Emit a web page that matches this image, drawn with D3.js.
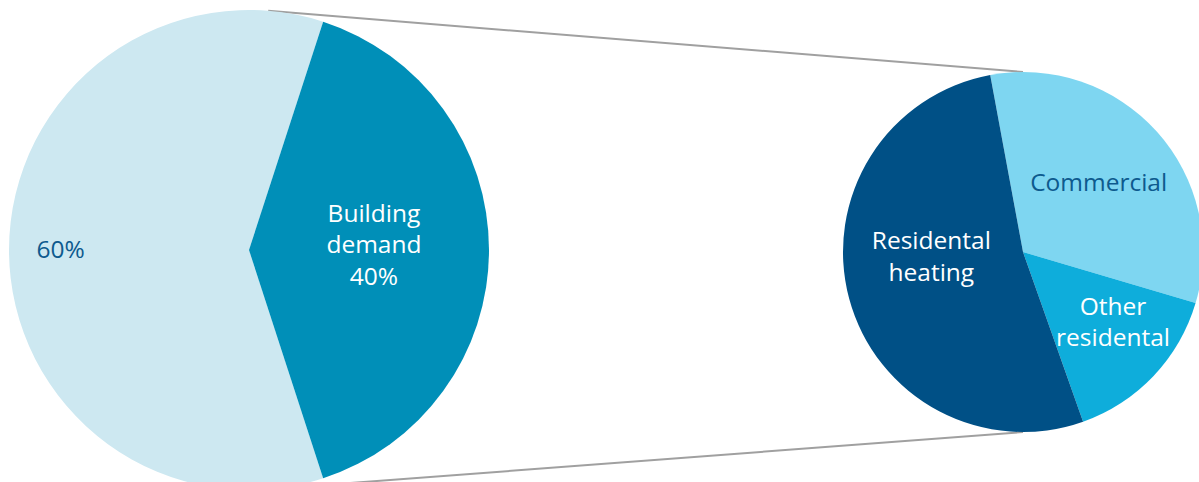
<!DOCTYPE html>
<html>
<head>
<meta charset="utf-8">
<script src="https://cdn.jsdelivr.net/npm/d3@7"></script>
<style>
  html, body { margin: 0; padding: 0; background: #ffffff; }
  svg { display: block; }
  text { font-family: "Open Sans", "Noto Sans", sans-serif; }
</style>
</head>
<body>
<svg id="chart" width="1199" height="482"></svg>
<script>
// ---- data ----
const mainCategories = ["Other", "Building demand"];
const mainValues = [60, 40];
const mainLabels = [["60%"], ["Building", "demand", "40%"]];

const subCategories = ["Commercial", "Other residental", "Residental heating"];
const subValues = [13, 6, 21];
const subLabels = [["Commercial"], ["Other", "residental"], ["Residental", "heating"]];

// ---- layout ----
const W = 1199, H = 482;
const mainPie = { cx: 249, cy: 250, r: 240 };
const subPie = { cx: 1023, cy: 252, r: 180 };
const mainColors = d3.scaleOrdinal().domain(mainCategories).range(["#cde8f1", "#008fb8"]);
const subColors = d3.scaleOrdinal().domain(subCategories).range(["#7ed6f1", "#0eaddb", "#005086"]);
const mainText = d3.scaleOrdinal().domain(mainCategories).range(["#0d5a8e", "#ffffff"]);
const subText = d3.scaleOrdinal().domain(subCategories).range(["#0d5a8e", "#ffffff", "#ffffff"]);
// label anchor (angle in degrees clockwise from north, distance as fraction of radius)
const mainLabelPos = { "Other": [270, 0.785], "Building demand": [87.6, 0.521] };
const subLabelPos = { "Commercial": [47.5, 0.57], "Other residental": [128, 0.635], "Residental heating": [267, 0.51] };
const fontSize = 24.5, lineH = 31.5;

const svg = d3.select("#chart");

// connector lines (tangent from the left pie to top/bottom of right pie)
const slopeAng = Math.atan2((subPie.cy - subPie.r) - (mainPie.cy - mainPie.r), subPie.cx - mainPie.cx);
const tTop = [mainPie.cx + mainPie.r * Math.sin(slopeAng), mainPie.cy - mainPie.r * Math.cos(slopeAng)];
const tBot = [mainPie.cx + mainPie.r * Math.sin(slopeAng), mainPie.cy + mainPie.r * Math.cos(slopeAng)];
svg.append("line").attr("x1", tTop[0]).attr("y1", tTop[1])
  .attr("x2", subPie.cx).attr("y2", subPie.cy - subPie.r)
  .attr("stroke", "#a0a0a0").attr("stroke-width", 2);
svg.append("line").attr("x1", tBot[0]).attr("y1", tBot[1])
  .attr("x2", subPie.cx).attr("y2", subPie.cy + subPie.r)
  .attr("stroke", "#a0a0a0").attr("stroke-width", 2);

function drawPie(cfg, cats, vals, labels, colors, textColors, labelPos, startDeg) {
  const data = cats.map((c, i) => ({ cat: c, value: vals[i], label: labels[i] }));
  const start = startDeg * Math.PI / 180;
  const pie = d3.pie().value(d => d.value).sort(null)
    .startAngle(start).endAngle(start + 2 * Math.PI);
  const arc = d3.arc().innerRadius(0).outerRadius(cfg.r);
  const g = svg.append("g").attr("transform", `translate(${cfg.cx},${cfg.cy})`);
  g.selectAll("path").data(pie(data)).join("path")
    .attr("d", arc).attr("fill", d => colors(d.data.cat));
  data.forEach(d => {
    const [a, f] = labelPos[d.cat];
    const rad = a * Math.PI / 180;
    const x = Math.sin(rad) * cfg.r * f;
    const y = -Math.cos(rad) * cfg.r * f;
    const n = d.label.length;
    const t = g.append("text").attr("text-anchor", "middle")
      .attr("fill", textColors(d.cat)).attr("font-size", fontSize);
    d.label.forEach((line, i) => {
      t.append("tspan").attr("x", x)
        .attr("y", y + (i - (n - 1) / 2) * lineH + fontSize * 0.34)
        .text(line);
    });
  });
}

// left pie: Building demand centred on the east side (40% => 144deg wedge around 90deg)
drawPie(mainPie, mainCategories, mainValues, mainLabels, mainColors, mainText, mainLabelPos,
  90 + 72);
// right pie
drawPie(subPie, subCategories, subValues, subLabels, subColors, subText, subLabelPos, -10.5);
</script>
</body>
</html>
